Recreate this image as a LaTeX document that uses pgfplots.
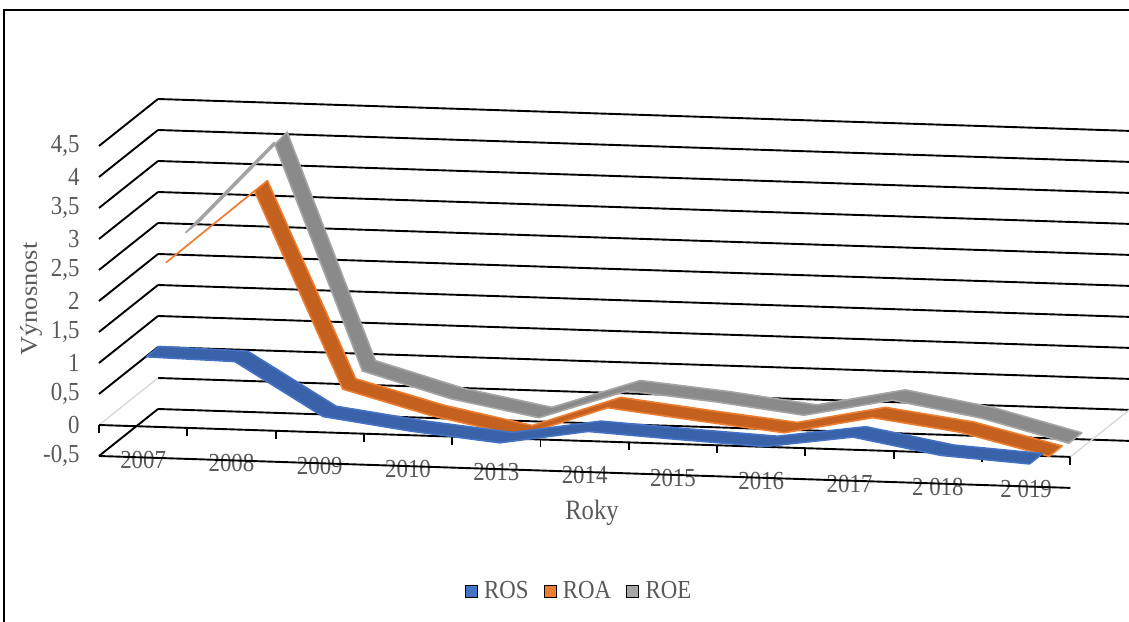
\documentclass[border=0pt]{standalone}
\usepackage{pgfplots}
\pgfplotsset{compat=1.18}
\usepackage{fontspec}
\setmainfont{Liberation Serif}[FakeStretch=0.88]
\newfontfamily\rotfont{Liberation Serif}[FakeStretch=1.1]
\definecolor{txt}{HTML}{595959}
\definecolor{rosL}{HTML}{4472C4}
\definecolor{rosD}{HTML}{3A62A9}
\definecolor{roaL}{HTML}{ED7D31}
\definecolor{roaD}{HTML}{C5611F}
\definecolor{roeL}{HTML}{A5A5A5}
\definecolor{roeD}{HTML}{8A8A8A}
\definecolor{floorgray}{HTML}{D9D9D9}
\begin{document}
\begin{tikzpicture}
\useasboundingbox (0,0) rectangle (1129pt,621pt);
\draw[line width=1.3pt] (4pt,-2pt) -- (4pt,611pt) -- (1131pt,611pt);
\begin{axis}[
  at={(99pt,196pt)}, anchor=origin,
  x={(88.3pt,-2.9pt)}, y={(59pt,47pt)}, z={(0pt,62pt)},
  xmin=0,xmax=11,ymin=0,ymax=1,zmin=-0.5,zmax=4.5,
  axis line style={draw=none},
  clip=false,
  xtick={0.5,1.5,2.5,3.5,4.5,5.5,6.5,7.5,8.5,9.5,10.5},
  xticklabels={2007,2008,2009,2010,2013,2014,2015,2016,2017,2 018,2 019},
  ytick=\empty,
  ztick={-0.5,0,0.5,1,1.5,2,2.5,3,3.5,4,4.5},
  major tick length=0pt,
  tick label style={font=\fontsize{26}{26}\selectfont, text=txt},
  xticklabel style={anchor=center, yshift=-3pt},
  zticklabel style={anchor=east, xshift=-16pt},
  /pgf/number format/use comma,
  /pgf/number format/assume math mode=true,
]
% back wall grid lines
\pgfplotsinvokeforeach{-0.5,0,0.5,1,1.5,2,2.5,3,3.5,4,4.5}{
  \draw[black, line width=1.9pt] (axis cs:0,1,#1) -- (axis cs:11,1,#1);
}
% side wall grid lines
\pgfplotsinvokeforeach{-0.5,0.5,1,1.5,2,2.5,3,3.5,4,4.5}{
  \draw[black, line width=1.9pt] (axis cs:0,0,#1) -- (axis cs:0,1,#1);
}
\draw[floorgray, line width=1.4pt] (axis cs:0,0,0) -- (axis cs:0,1,0);
\draw[floorgray, line width=1.4pt] (axis cs:11,0,0) -- (axis cs:11,1,0);
% front lines
\draw[black, line width=1.9pt] (axis cs:0,0,-0.5) -- (axis cs:11,0,-0.5);
\draw[black, line width=1.9pt] (axis cs:0,0,0) -- (axis cs:11,0,0);
\pgfplotsinvokeforeach{0,1,2,3,4,5,6,7,8,9,10,11}{
  \draw[black, line width=1.9pt] (axis cs:#1,0,0) -- ++(0pt,-8pt);
}
% ROE ribbon
\addplot3[fill=roeD, draw=roeL, line width=1.6pt, line join=round] coordinates {
(0.5,0.723,2.58) (1.5,0.723,4.08) (2.5,0.723,0.44) (3.5,0.723,0.04) (4.5,0.723,-0.22) (5.5,0.723,0.26) (6.5,0.723,0.13) (7.5,0.723,-0.04) (8.5,0.723,0.25) (9.5,0.723,0.01) (10.5,0.723,-0.35)
(10.5,0.943,-0.35) (9.5,0.943,0.01) (8.5,0.943,0.25) (7.5,0.943,-0.04) (6.5,0.943,0.13) (5.5,0.943,0.26) (4.5,0.943,-0.22) (3.5,0.943,0.04) (2.5,0.943,0.44) (1.5,0.943,4.08) (0.5,0.943,2.58)
} -- cycle;
% ROA ribbon
\addplot3[fill=roaD, draw=roaL, line width=1.6pt, line join=round] coordinates {
(0.5,0.39,2.35) (1.5,0.39,3.55) (2.5,0.39,0.40) (3.5,0.39,0.02) (4.5,0.39,-0.26) (5.5,0.39,0.24) (6.5,0.39,0.08) (7.5,0.39,-0.07) (8.5,0.39,0.22) (9.5,0.39,0.03) (10.5,0.39,-0.31)
(10.5,0.61,-0.31) (9.5,0.61,0.03) (8.5,0.61,0.22) (7.5,0.61,-0.07) (6.5,0.61,0.08) (5.5,0.61,0.24) (4.5,0.61,-0.26) (3.5,0.61,0.02) (2.5,0.61,0.40) (1.5,0.61,3.55) (0.5,0.61,2.35)
} -- cycle;
% ROS ribbon
\addplot3[fill=rosD, draw=rosL, line width=1.6pt, line join=round] coordinates {
(0.5,0.057,1.08) (1.5,0.057,1.05) (2.5,0.057,0.21) (3.5,0.057,0.02) (4.5,0.057,-0.12) (5.5,0.057,0.11) (6.5,0.057,0.03) (7.5,0.057,-0.04) (8.5,0.057,0.16) (9.5,0.057,-0.09) (10.5,0.057,-0.18)
(10.5,0.277,-0.18) (9.5,0.277,-0.09) (8.5,0.277,0.16) (7.5,0.277,-0.04) (6.5,0.277,0.03) (5.5,0.277,0.11) (4.5,0.277,-0.12) (3.5,0.277,0.02) (2.5,0.277,0.21) (1.5,0.277,1.05) (0.5,0.277,1.08)
} -- cycle;
\end{axis}
% legend
\begin{axis}[at={(579pt,30pt)}, anchor=center, hide axis, width=4cm, height=2cm,
  xmin=0,xmax=1,ymin=0,ymax=1,
  legend style={draw=none, fill=none, at={(0.5,0.5)}, anchor=center, legend columns=3,
    font=\fontsize{26}{26}\selectfont, text=txt,
    /tikz/every even column/.append style={column sep=13pt}},
  legend image code/.code={\fill[#1] (0pt,-6pt) rectangle (12pt,6pt); \path (17pt,0pt);}]
\addlegendimage{fill=rosL}\addlegendentry{ROS}
\addlegendimage{fill=roaL}\addlegendentry{ROA}
\addlegendimage{fill=roeL}\addlegendentry{ROE}
\end{axis}
\node[rotate=90, font=\rotfont\fontsize{24}{24}\selectfont, text=txt] at (31pt,322pt) {Výnosnost};
\node[font=\fontsize{28}{28}\selectfont, text=txt] at (592pt,108pt) {Roky};
\end{tikzpicture}
\end{document}
